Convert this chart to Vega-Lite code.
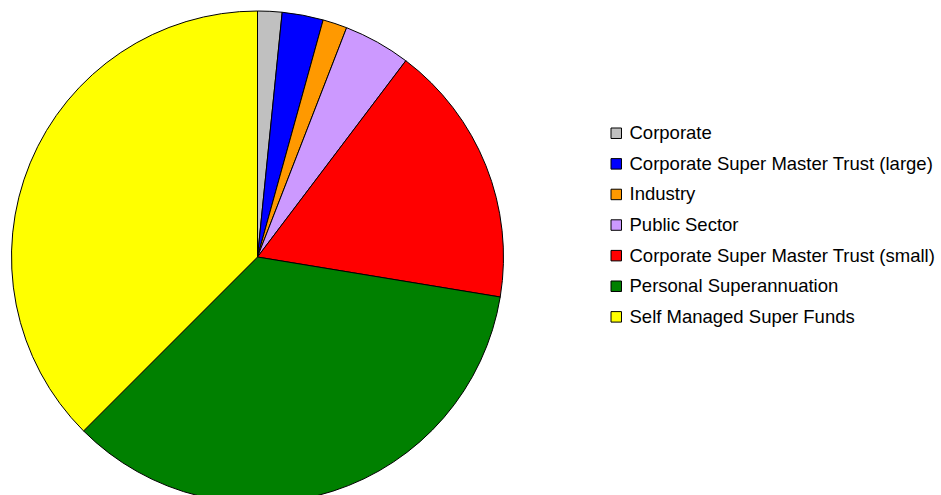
{
  "$schema": "https://vega.github.io/schema/vega-lite/v6.json",
  "width": 515,
  "height": 514,
  "autosize": "none",
  "padding": {"left": 0, "top": 0, "right": 426, "bottom": 0},
  "background": "white",
  "view": {"stroke": null},
  "data": {
    "values": [
      {"fund": "Corporate", "share": 1.6, "order": 1},
      {"fund": "Corporate Super Master Trust (large)", "share": 2.7, "order": 2},
      {"fund": "Industry", "share": 1.6, "order": 3},
      {"fund": "Public Sector", "share": 4.4, "order": 4},
      {"fund": "Corporate Super Master Trust (small)", "share": 17.3, "order": 5},
      {"fund": "Personal Superannuation", "share": 34.9, "order": 6},
      {"fund": "Self Managed Super Funds", "share": 37.5, "order": 7}
    ]
  },
  "mark": {"type": "arc", "radius": 246, "stroke": "black", "strokeWidth": 1},
  "encoding": {
    "theta": {"field": "share", "type": "quantitative", "stack": true},
    "order": {"field": "order", "type": "quantitative"},
    "color": {
      "field": "fund",
      "type": "nominal",
      "scale": {
        "domain": ["Corporate", "Corporate Super Master Trust (large)", "Industry", "Public Sector", "Corporate Super Master Trust (small)", "Personal Superannuation", "Self Managed Super Funds"],
        "range": ["#c0c0c0", "#0000ff", "#ff9900", "#cc99ff", "#ff0000", "#008000", "#ffff00"]
      },
      "legend": {
        "title": null,
        "orient": "none",
        "legendX": 607,
        "legendY": 124,
        "padding": 0,
        "symbolType": "square",
        "symbolSize": 110,
        "symbolStrokeColor": "black",
        "symbolStrokeWidth": 1,
        "symbolOpacity": 1,
        "labelFont": "Liberation Sans",
        "labelFontSize": 18.5,
        "labelColor": "black",
        "labelOffset": 4,
        "rowPadding": 11.6,
        "labelLimit": 400
      }
    }
  }
}
